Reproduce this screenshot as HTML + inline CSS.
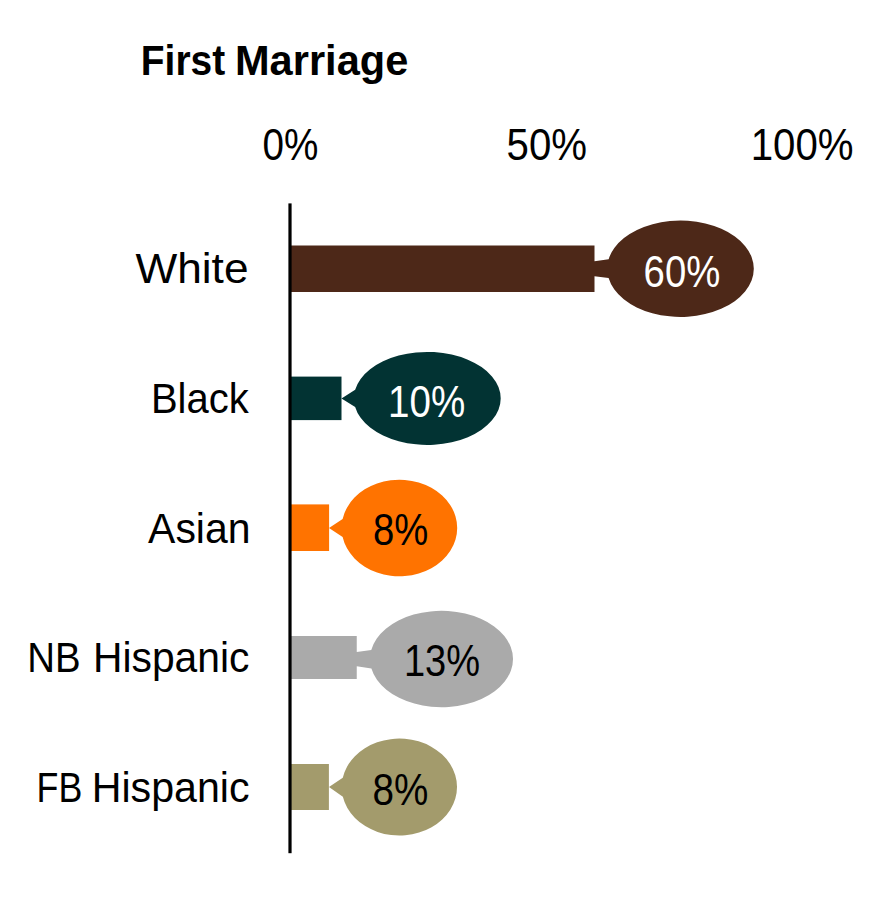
<!DOCTYPE html>
<html>
<head>
<meta charset="utf-8">
<style>
html, body { margin: 0; padding: 0; background: #ffffff; }
body { width: 896px; height: 897px; overflow: hidden; }
svg { display: block; }
text { font-family: "Liberation Sans", sans-serif; }
</style>
</head>
<body>
<svg width="896" height="897" viewBox="0 0 896 897">
  <rect x="0" y="0" width="896" height="897" fill="#ffffff"/>
  <g class="shapes">
  <path d="M290.00,245.50 L594.50,245.50 L594.50,261.25 L608.65,259.23 A73.30,48.15 0 1 1 608.59,278.07 L594.50,276.25 L594.50,292.00 L290.00,292.00 Z" fill="#4D2818"/>
  <rect x="290.00" y="376.60" width="51.50" height="43.50" fill="#023333"/>
  <path d="M341.50,398.40 L355.15,389.84 A73.40,46.50 0 1 1 355.16,406.98 Z" fill="#023333"/>
  <rect x="290.00" y="504.40" width="39.10" height="46.60" fill="#FF7300"/>
  <path d="M329.00,528.00 L342.63,518.91 A57.80,48.30 0 1 1 342.63,537.09 Z" fill="#FF7300"/>
  <path d="M290.00,636.00 L356.75,636.00 L356.75,651.90 L371.26,650.00 A71.50,48.20 0 1 1 371.41,668.53 L356.75,666.30 L356.75,679.10 L290.00,679.10 Z" fill="#AAAAAA"/>
  <rect x="290.00" y="764.00" width="38.90" height="46.00" fill="#A39B6C"/>
  <path d="M329.00,787.00 L342.78,777.71 A57.65,48.45 0 1 1 342.87,796.75 Z" fill="#A39B6C"/>
  <rect x="288.4" y="203.4" width="3.2" height="649.8" fill="#000"/>
  </g>
  <text transform="translate(140.87,75.40) scale(0.8984,1)" font-size="43.30" font-weight="bold" fill="#000">First</text>
  <text transform="translate(235.00,75.40) scale(0.9601,1)" font-size="43.30" font-weight="bold" fill="#000">Marriage</text>
  <text transform="translate(262.45,159.50) scale(0.8792,1)" font-size="44.00" fill="#000">0%</text>
  <text transform="translate(506.59,159.50) scale(0.9138,1)" font-size="44.00" fill="#000">50%</text>
  <text transform="translate(750.68,159.50) scale(0.9147,1)" font-size="44.00" fill="#000">100%</text>
  <text transform="translate(135.38,283.00) scale(1.0320,1)" font-size="42.90" fill="#000">White</text>
  <text transform="translate(150.90,412.90) scale(0.9324,1)" font-size="42.90" fill="#000">Black</text>
  <text transform="translate(148.10,542.90) scale(0.9545,1)" font-size="42.90" fill="#000">Asian</text>
  <text transform="translate(27.23,672.40) scale(0.8953,1)" font-size="42.90" fill="#000">NB</text>
  <text transform="translate(93.04,672.40) scale(0.9505,1)" font-size="42.90" fill="#000">Hispanic</text>
  <text transform="translate(36.54,802.20) scale(0.8347,1)" font-size="42.90" fill="#000">FB</text>
  <text transform="translate(91.71,802.20) scale(0.9599,1)" font-size="42.90" fill="#000">Hispanic</text>
  <text transform="translate(643.58,286.90) scale(0.8771,1)" font-size="43.70" fill="#fff">60%</text>
  <text transform="translate(388.11,416.60) scale(0.8826,1)" font-size="43.70" fill="#fff">10%</text>
  <text transform="translate(372.98,545.10) scale(0.8751,1)" font-size="43.70" fill="#000">8%</text>
  <text transform="translate(403.94,675.60) scale(0.8711,1)" font-size="43.70" fill="#000">13%</text>
  <text transform="translate(372.46,804.60) scale(0.8835,1)" font-size="43.70" fill="#000">8%</text>
</svg>
</body>
</html>
